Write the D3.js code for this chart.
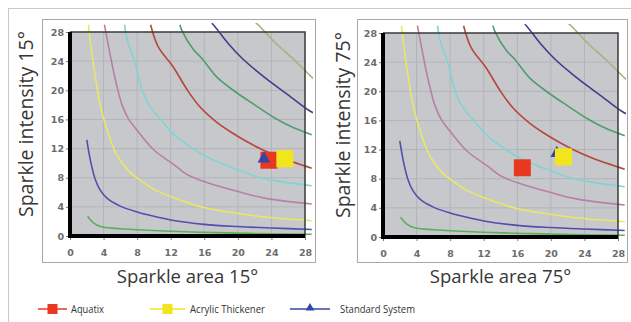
<!DOCTYPE html>
<html><head><meta charset="utf-8">
<script src="https://cdn.jsdelivr.net/npm/d3@7"></script>
<style>html,body{margin:0;padding:0;background:#fff;}svg{display:block;}</style>
</head><body>
<script>
// ---- data ----
const axisTicks = [0,4,8,12,16,20,24,28];
const panels = ["15°","75°"];
const seriesNames = ["Aquatix","Acrylic Thickener","Standard System"];
const seriesColors = ["#e8381f","#f3e51b","#3347a6"];
// marker positions per panel [x, y]
const aquatix15 = [23.7,10.4], acrylic15 = [25.6,10.6], standard15 = [23.1,10.6];
const aquatix75 = [16.6,9.5],  acrylic75 = [21.5,11.0], standard75 = [20.7,11.5];
// background iso-curves (same in both panels)
const curveGreenLow = [[2.1,2.7],[2.6,2.0],[3.2,1.5],[4,1.2],[6,1.0],[8,0.85],[12,0.65],[16,0.5],[20,0.4],[24,0.3],[28.8,0.25]];
const curveBlueLow  = [[2.0,13.2],[2.5,10],[3.0,7.8],[3.6,6.3],[4.4,5.2],[6,4.1],[8,3.3],[10,2.7],[12,2.2],[16,1.6],[20,1.3],[24,1.1],[28.8,0.9]];
const curveYellow   = [[2.2,29],[2.5,26],[3,22],[3.6,18],[4.3,15],[5.5,11.3],[7,8.9],[8.3,7.7],[10,6.4],[12.5,5.2],[15,4.2],[17.3,3.6],[20,3.1],[23.2,2.6],[28.8,2.1]];
const curvePink     = [[4.1,29],[4.6,26],[5.3,22],[6.2,18],[7,16],[8,14.5],[10,11.8],[12.5,9.7],[14,8.4],[16.4,7.3],[20,6.1],[23.2,5.2],[28.8,4.4]];
const curveCyan     = [[6.5,29],[6.8,27],[7.7,24],[8.6,20],[9.4,18],[10.8,16],[12.5,13.8],[14.5,12.1],[16.4,10.8],[19,9.5],[22.4,8.1],[25,7.5],[28.8,6.9]];
const curveRed      = [[9.6,29],[10.5,26],[12.3,23.2],[14,20],[15.5,17.7],[17.5,15.6],[19.4,14.1],[21,13],[23,11.8],[25,10.8],[28.8,9.3]];
const curveGreen    = [[13.1,29],[13.3,28.3],[14.7,25.6],[15.7,24.4],[17.5,21.8],[19.7,19.8],[22,18],[24.4,16.2],[26.2,15.1],[28.8,13.9]];
const curveNavy     = [[16.9,29.2],[17.3,28.7],[18.8,26.5],[20.5,24.4],[22.4,22.5],[24.4,20.7],[26.4,19],[28.4,17.3],[29,16.9]];
const curveOlive    = [[21.9,29.5],[22.4,29],[24.4,26.6],[26.5,24.4],[28.8,21.8],[29.2,21.4]];
const curves = [curveGreenLow, curveBlueLow, curveYellow, curvePink, curveCyan, curveRed, curveGreen, curveNavy, curveOlive];
const curveColors = ["#5bb05b","#4f4fae","#e9e860","#b97fa6","#7fd4d6","#b5473c","#4e9e6e","#3d3f8e","#a9b17a"];

const W = 631, H = 322;
const svg = d3.select("body").append("svg").attr("width", W).attr("height", H);
svg.append("rect").attr("x",8.5).attr("y",8.5).attr("width",800).attr("height",400)
  .attr("fill","none").attr("stroke","#c8c8c8");

const layouts = [
  {x0:70, x1:305, y0:32, y1:236, fx0:42, fx1:315, tx:33},
  {x0:383, x1:618, y0:33, y1:237, fx0:357, fx1:627, tx:350}
];
const markers = [[aquatix15, acrylic15, standard15],[aquatix75, acrylic75, standard75]];

layouts.forEach((L, pi) => {
  const x = d3.scaleLinear().domain([0,28]).range([L.x0, L.x1]);
  const y = d3.scaleLinear().domain([0,28]).range([L.y1, L.y0]);
  const g = svg.append("g");
  g.append("rect").attr("x",L.fx0+0.5).attr("y",19.5).attr("width",L.fx1-L.fx0).attr("height",243)
    .attr("fill","#fff").attr("stroke","#a8a8a8");
  g.append("rect").attr("x",L.x0).attr("y",L.y0).attr("width",L.x1-L.x0).attr("height",L.y1-L.y0)
    .attr("fill","#c7c8cc");
  g.append("g").selectAll("line").data(axisTicks.slice(1,-1)).join("line")
    .attr("x1",d=>x(d)).attr("x2",d=>x(d)).attr("y1",L.y0).attr("y2",L.y1)
    .attr("stroke","#b3b4b9").attr("stroke-width",1);
  g.append("g").selectAll("line").data(axisTicks.slice(1,-1)).join("line")
    .attr("y1",d=>y(d)).attr("y2",d=>y(d)).attr("x1",L.x0).attr("x2",L.x1)
    .attr("stroke","#b3b4b9").attr("stroke-width",1);
  const cid = "clip"+pi;
  svg.append("clipPath").attr("id",cid).append("rect")
    .attr("x",L.x0).attr("y",L.y0-9).attr("width",L.x1-L.x0+8).attr("height",L.y1-L.y0+9);
  const line = d3.line().x(d=>x(d[0])).y(d=>y(d[1])).curve(d3.curveCatmullRom.alpha(0.5));
  g.append("g").attr("clip-path",`url(#${cid})`).selectAll("path").data(curves).join("path")
    .attr("d", line).attr("fill","none").attr("stroke",(d,i)=>curveColors[i]).attr("stroke-width",1.6);
  g.append("path").attr("d",`M${L.x0},${L.y0}H${L.x1}V${L.y1}`).attr("fill","none").attr("stroke","#3a3a3a").attr("stroke-width",1.5);
  const ax = g.append("g").attr("transform",`translate(${L.x0},0)`).call(d3.axisLeft(y).tickValues(axisTicks).tickSize(4).tickPadding(2));
  const bx = g.append("g").attr("transform",`translate(0,${L.y1})`).call(d3.axisBottom(x).tickValues(axisTicks).tickSize(4).tickPadding(9));
  [ax,bx].forEach(a=>{
    a.select(".domain").remove();
    a.selectAll(".tick line").attr("stroke","#777");
    a.selectAll("text").attr("font-family","DejaVu Sans, sans-serif").attr("font-size",9.5)
      .attr("font-weight","bold").attr("fill","#6c6c6c");
  });
  g.append("path").attr("d",`M${L.x0},${L.y0}V${L.y1}H${L.x1}`).attr("fill","none").attr("stroke","#000").attr("stroke-width",4);
  const [aq, ac, st] = markers[pi];
  const s = 17;
  g.append("rect").attr("x",x(aq[0])-s/2).attr("y",y(aq[1])-s/2).attr("width",s).attr("height",s).attr("fill",seriesColors[0]);
  if (pi===0) {
    g.append("rect").attr("x",x(ac[0])-s/2).attr("y",y(ac[1])-s/2).attr("width",s).attr("height",s).attr("fill",seriesColors[1]);
    g.append("path").attr("transform",`translate(${x(st[0])},${y(st[1])})`)
      .attr("d",d3.symbol(d3.symbolTriangle,70)).attr("fill",seriesColors[2]);
  } else {
    g.append("path").attr("transform",`translate(${x(st[0])},${y(st[1])})`)
      .attr("d",d3.symbol(d3.symbolTriangle,70)).attr("fill",seriesColors[2]);
    g.append("rect").attr("x",x(ac[0])-s/2).attr("y",y(ac[1])-s/2).attr("width",s).attr("height",s).attr("fill",seriesColors[1]);
  }
  g.append("text").attr("x",(L.x0+L.x1)/2).attr("y",283).attr("text-anchor","middle")
    .attr("font-family","Open Sans, sans-serif").attr("font-size",18.5).attr("fill","#363636")
    .text("Sparkle area " + panels[pi]);
  const ty = (L.y0+L.y1)/2 - 10;
  g.append("text").attr("transform",`translate(${L.tx},${ty}) rotate(-90)`).attr("text-anchor","middle")
    .attr("font-family","Open Sans, sans-serif").attr("font-size",19.5).attr("fill","#363636")
    .text("Sparkle intensity " + panels[pi]);
});

// legend
const legendX = [38, 150, 290];
const legendLen = [29, 35, 40];
const legendTextX = [71, 190, 340];
const legendTextW = [33, 75, 75];
const lg = svg.append("g").attr("transform","translate(0,309)");
seriesNames.forEach((n,i)=>{
  const x0 = legendX[i], len = legendLen[i];
  lg.append("line").attr("x1",x0).attr("x2",x0+len).attr("stroke",seriesColors[i]).attr("stroke-width",1.5);
  if (i<2) lg.append("rect").attr("x",x0+len/2-5).attr("y",-5).attr("width",10).attr("height",10).attr("fill",seriesColors[i]);
  else lg.append("path").attr("transform",`translate(${x0+len/2},-1)`).attr("d",d3.symbol(d3.symbolTriangle,34)).attr("fill",seriesColors[i]);
  lg.append("text").attr("x",legendTextX[i]).attr("y",4).attr("font-family","Open Sans, sans-serif")
    .attr("font-size",10.5).attr("fill","#333").attr("textLength",legendTextW[i]).attr("lengthAdjust","spacingAndGlyphs").text(n);
});
</script>
</body></html>
